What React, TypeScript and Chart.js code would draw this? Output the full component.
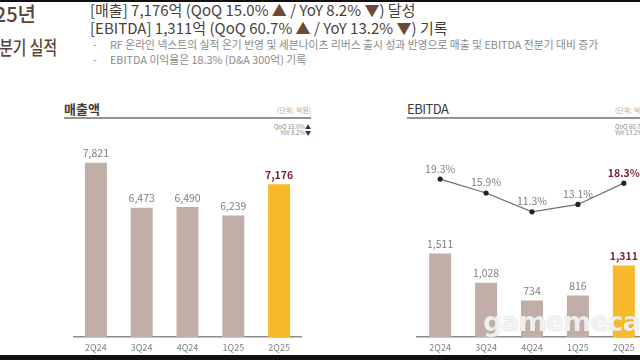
import React, { useEffect, useRef } from "react";
import { Chart, registerables } from "chart.js";

Chart.register(...registerables);

const quarters = ["2Q24", "3Q24", "4Q24", "1Q25", "2Q25"];
const revenue = [7821, 6473, 6490, 6239, 7176];
const ebitda = [1511, 1028, 734, 816, 1311];
const ebitdaMargin = [19.3, 15.9, 11.3, 13.1, 18.3];

const BAR = "#c1afa7";
const HIGHLIGHT = "#f8b92a";
const RED = "#7d1f2e";
const GREY = "#7f7f7f";
const FONT = "'Noto Sans CJK KR', 'Noto Sans', sans-serif";

const labelPlugin = {
  id: "valueLabels",
  afterDatasetsDraw(chart: any) {
    const ctx = chart.ctx;
    chart.data.datasets.forEach((ds: any, di: number) => {
      const meta = chart.getDatasetMeta(di);
      const isLine = ds.type === "line";
      meta.data.forEach((el: any, i: number) => {
        const last = i === ds.data.length - 1;
        const v = ds.data[i];
        const text = isLine ? v.toFixed(1) + "%" : v.toLocaleString("en-US");
        ctx.save();
        ctx.font = (last ? "bold 10.5px " : "10.5px ") + FONT;
        ctx.fillStyle = last ? RED : GREY;
        ctx.textAlign = "center";
        ctx.textBaseline = "middle";
        ctx.fillText(text, el.x, el.y - (isLine ? 10.5 : 9.5));
        ctx.restore();
      });
    });
  },
};

function xAxis() {
  return {
    type: "category" as const,
    grid: { display: false, drawTicks: false },
    border: { display: true, color: "#8c8c8c", width: 1.5 },
    ticks: { color: GREY, font: { family: FONT, size: 9 }, padding: 5 },
    afterFit(scale: any) {
      scale.height = 16;
    },
  };
}

function useChart(ref: React.RefObject<HTMLCanvasElement>, build: () => any) {
  useEffect(() => {
    if (!ref.current) return;
    const chart = new Chart(ref.current, build());
    return () => chart.destroy();
  }, []);
}

function RevenueChart() {
  const ref = useRef<HTMLCanvasElement>(null);
  useChart(ref, () => ({
    type: "bar",
    data: {
      labels: quarters,
      datasets: [
        {
          type: "bar",
          data: revenue,
          backgroundColor: revenue.map((_, i) => (i === revenue.length - 1 ? HIGHLIGHT : BAR)),
          barPercentage: 0.48,
          categoryPercentage: 1,
        },
      ],
    },
    options: {
      responsive: false,
      animation: false,
      layout: { padding: { top: 20, bottom: 7, left: 0, right: 0 } },
      plugins: { legend: { display: false }, tooltip: { enabled: false } },
      scales: {
        x: xAxis(),
        y: { display: false, min: 2600, max: 8500 },
      },
    },
    plugins: [labelPlugin],
  }));
  return (
    <canvas
      ref={ref}
      width={229}
      height={240}
      style={{ position: "absolute", left: 73, top: 120, width: 229, height: 240 }}
    />
  );
}

function EbitdaChart() {
  const ref = useRef<HTMLCanvasElement>(null);
  useChart(ref, () => ({
    type: "bar",
    data: {
      labels: quarters,
      datasets: [
        {
          type: "line",
          data: ebitdaMargin,
          yAxisID: "y2",
          borderColor: "#6f6f6f",
          borderWidth: 1.2,
          pointRadius: 2,
          pointBackgroundColor: "#222",
          pointBorderColor: "#222",
          tension: 0,
          order: 0,
        },
        {
          type: "bar",
          data: ebitda,
          yAxisID: "y",
          backgroundColor: ebitda.map((_, i) => (i === ebitda.length - 1 ? HIGHLIGHT : BAR)),
          barPercentage: 0.48,
          categoryPercentage: 1,
          order: 1,
        },
      ],
    },
    options: {
      responsive: false,
      animation: false,
      layout: { padding: { top: 20, bottom: 7, left: 0, right: 0 } },
      plugins: { legend: { display: false }, tooltip: { enabled: false } },
      scales: {
        x: xAxis(),
        y: { display: false, min: 130, max: 3386 },
        y2: { display: false, min: -19.3, max: 28.85, position: "right" },
      },
    },
    plugins: [labelPlugin],
  }));
  return (
    <canvas
      ref={ref}
      width={240}
      height={240}
      style={{ position: "absolute", left: 412, top: 120, width: 240, height: 240 }}
    />
  );
}

const abs = (s: React.CSSProperties): React.CSSProperties => ({
  position: "absolute",
  whiteSpace: "nowrap",
  fontFamily: FONT,
  ...s,
});

const TRI = "#6e4a36";

export default function App() {
  return (
    <div
      style={{
        position: "fixed",
        left: 0,
        top: 0,
        width: 640,
        height: 360,
        overflow: "hidden",
        background: "#fff",
        fontFamily: FONT,
      }}
    >
      <div style={abs({ left: 0, top: 0, width: 640, height: 2, background: "#111" })} />
      <div style={abs({ left: 0, top: 355, width: 640, height: 5, background: "#111" })} />

      {/* big page title, cut off on the left */}
      <div
        style={abs({
          right: 604,
          top: 0,
          fontSize: 20,
          lineHeight: "28px",
          color: "#5a4535",
          fontWeight: 500,
        })}
      >
        2025년
      </div>
      <div
        style={abs({
          right: 583,
          top: 33,
          fontSize: 19,
          lineHeight: "28px",
          color: "#5a4535",
          fontWeight: 500,
          transform: "scaleX(0.78)",
          transformOrigin: "right center",
        })}
      >
        2분기 실적
      </div>

      <div style={abs({ left: 90, top: 0, fontSize: 15, lineHeight: "20px", color: "#4a3f38" })}>
        [매출] 7,176억 (QoQ 15.0% <span style={{ color: TRI }}>▲</span> / YoY 8.2%{" "}
        <span style={{ color: TRI }}>▼</span>) 달성
      </div>
      <div style={abs({ left: 90, top: 18, fontSize: 15, lineHeight: "20px", color: "#4a3f38" })}>
        [EBITDA] 1,311억 (QoQ 60.7% <span style={{ color: TRI }}>▲</span> / YoY 13.2%{" "}
        <span style={{ color: TRI }}>▼</span>) 기록
      </div>
      <div style={abs({ left: 93, top: 37, fontSize: 10.8, lineHeight: "14px", color: "#8a8a8a" })}>
        -
      </div>
      <div style={abs({ left: 110, top: 37, fontSize: 10.8, lineHeight: "14px", color: "#8a8a8a" })}>
        RF 온라인 넥스트의 실적 온기 반영 및 세븐나이츠 리버스 출시 성과 반영으로 매출 및 EBITDA 전분기 대비 증가
      </div>
      <div style={abs({ left: 93, top: 52, fontSize: 10.8, lineHeight: "14px", color: "#8a8a8a" })}>
        -
      </div>
      <div style={abs({ left: 110, top: 52, fontSize: 10.8, lineHeight: "14px", color: "#8a8a8a" })}>
        EBITDA 이익율은 18.3% (D&amp;A 300억) 기록
      </div>

      {/* left panel header */}
      <div style={abs({ left: 64, top: 100, fontSize: 13, lineHeight: "18px", color: "#4a3a2e", fontWeight: 700 })}>
        매출액
      </div>
      <div style={abs({ right: 329, top: 105, fontSize: 7, lineHeight: "10px", color: "#aaaaaa" })}>
        (단위: 억원)
      </div>
      <div style={abs({ left: 64, top: 117, width: 247, height: 2, background: "#939393" })} />
      <div
        style={abs({
          right: 329,
          top: 124,
          fontSize: 6,
          lineHeight: "6px",
          color: "#888",
          textAlign: "right",
        })}
      >
        QoQ 15.0%<span style={{ color: "#333" }}>▲</span>
        <br />
        YoY 8.2%<span style={{ color: "#333" }}>▼</span>
      </div>

      {/* right panel header */}
      <div style={abs({ left: 407, top: 100, fontSize: 13, lineHeight: "18px", color: "#3d3a38", letterSpacing: -0.5 })}>
        EBITDA
      </div>
      <div style={abs({ left: 615, top: 105, fontSize: 7, lineHeight: "10px", color: "#aaaaaa" })}>
        (단위: 억원)
      </div>
      <div style={abs({ left: 407, top: 117, width: 240, height: 2, background: "#939393" })} />
      <div style={abs({ left: 615, top: 124, fontSize: 6, lineHeight: "6px", color: "#888" })}>
        QoQ 60.7%<span style={{ color: "#333" }}>▲</span>
        <br />
        YoY 13.2%<span style={{ color: "#333" }}>▼</span>
      </div>

      <RevenueChart />
      <EbitdaChart />

      <div
        style={abs({
          left: 483,
          top: 306,
          fontSize: 27,
          lineHeight: "32px",
          fontFamily: "'DejaVu Sans', sans-serif",
          fontWeight: 700,
          color: "rgba(255,255,255,0.85)",
          textShadow: "0 0 1px rgba(120,120,120,0.6)",
          letterSpacing: -1,
        })}
      >
        gamemeca.com
      </div>
    </div>
  );
}
